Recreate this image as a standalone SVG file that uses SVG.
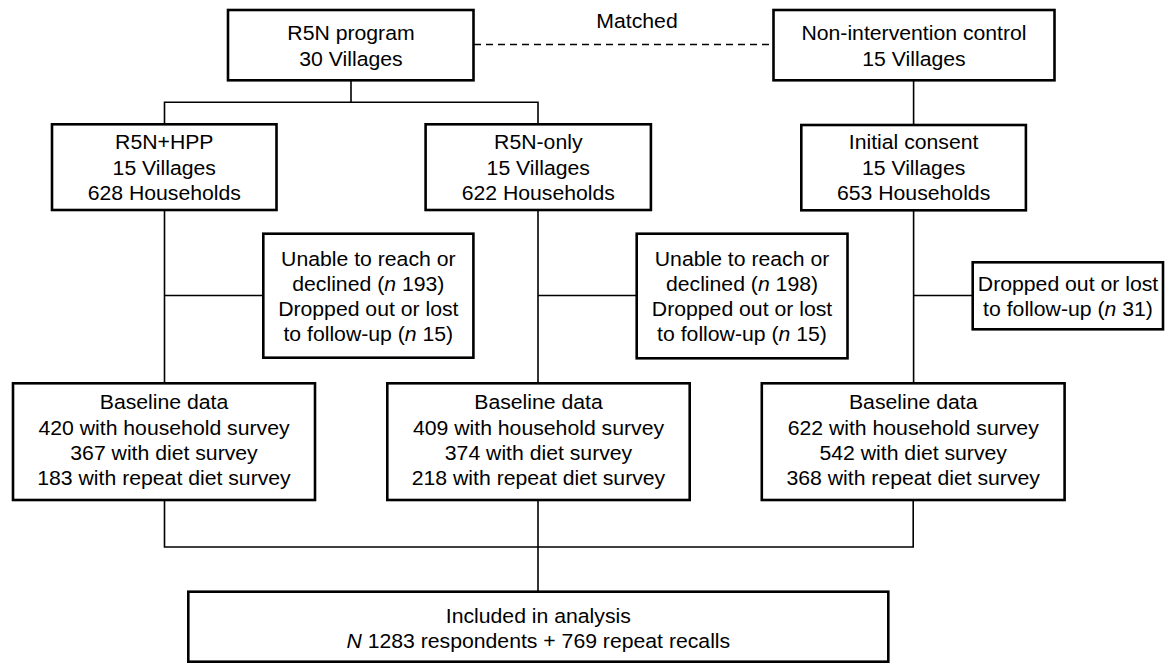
<svg xmlns="http://www.w3.org/2000/svg" width="1169" height="663" viewBox="0 0 1169 663">
<style>
  .box { fill: #ffffff; stroke: #000000; stroke-width: 2.6; }
  .ln { fill: none; stroke: #000000; stroke-width: 1.6; }
  .dash { fill: none; stroke: #000000; stroke-width: 1.5; stroke-dasharray: 7 5; }
  text { font-family: "Liberation Sans", Arial, Helvetica, sans-serif; font-size: 19.3px; fill: #000000; text-anchor: middle; }
  .it { font-style: italic; }
</style>
<rect x="0" y="0" width="1169" height="663" fill="#ffffff"/>
<g id="connectors">
  <path class="dash" d="M474 44.5 H773.5"/>
  <path class="ln" d="M351 80.3 V102.3 M164.5 124.3 V102.3 H538 V124.3"/>
  <path class="ln" d="M913.6 80.3 V125"/>
  <path class="ln" d="M164.5 210 V383.3 M164.5 295.5 H263.3"/>
  <path class="ln" d="M538 210 V383.3 M538 295.5 H636.7"/>
  <path class="ln" d="M913.6 210.3 V383.3 M913.6 295.5 H972.7"/>
  <path class="ln" d="M164.5 500 V547 H913.2 V500 M538 500 V591.7"/>
</g>
<text transform="matrix(1.1 0 0 1 637 0)" y="28">Matched</text>
<g id="r5n-program">
  <rect class="box" x="228" y="10" width="245.5" height="70.3"/>
  <text transform="matrix(1.1 0 0 1 351 0)" y="40">R5N program</text>
  <text transform="matrix(1.1 0 0 1 351 0)" y="65.7">30 Villages</text>
</g>
<g id="control">
  <rect class="box" x="773.5" y="10" width="281" height="70.3"/>
  <text transform="matrix(1.1 0 0 1 914 0)" y="40">Non-intervention control</text>
  <text transform="matrix(1.1 0 0 1 914 0)" y="65.7">15 Villages</text>
</g>
<g id="r5n-hpp">
  <rect class="box" x="52" y="124.3" width="224.5" height="85.7"/>
  <text transform="matrix(1.1 0 0 1 164.3 0)" y="149">R5N+HPP</text>
  <text transform="matrix(1.1 0 0 1 164.3 0)" y="174.7">15 Villages</text>
  <text transform="matrix(1.1 0 0 1 164.3 0)" y="200">628 Households</text>
</g>
<g id="r5n-only">
  <rect class="box" x="425.6" y="124.3" width="225.3" height="85.7"/>
  <text transform="matrix(1.1 0 0 1 538.3 0)" y="149">R5N-only</text>
  <text transform="matrix(1.1 0 0 1 538.3 0)" y="174.7">15 Villages</text>
  <text transform="matrix(1.1 0 0 1 538.3 0)" y="200">622 Households</text>
</g>
<g id="initial-consent">
  <rect class="box" x="801.3" y="125" width="224.6" height="85.3"/>
  <text transform="matrix(1.1 0 0 1 913.6 0)" y="149.3">Initial consent</text>
  <text transform="matrix(1.1 0 0 1 913.6 0)" y="174.7">15 Villages</text>
  <text transform="matrix(1.1 0 0 1 913.6 0)" y="200">653 Households</text>
</g>
<g id="excluded-hpp">
  <rect class="box" x="263.3" y="233.7" width="210.1" height="124"/>
  <text transform="matrix(1.1 0 0 1 368.3 0)" y="266">Unable to reach or</text>
  <text transform="matrix(1.1 0 0 1 368.3 0)" y="291">declined (<tspan class="it">n</tspan> 193)</text>
  <text transform="matrix(1.1 0 0 1 368.3 0)" y="316">Dropped out or lost</text>
  <text transform="matrix(1.1 0 0 1 368.3 0)" y="341.5">to follow-up (<tspan class="it">n</tspan> 15)</text>
</g>
<g id="excluded-only">
  <rect class="box" x="636.7" y="233.7" width="210.8" height="124.6"/>
  <text transform="matrix(1.1 0 0 1 742 0)" y="266">Unable to reach or</text>
  <text transform="matrix(1.1 0 0 1 742 0)" y="291">declined (<tspan class="it">n</tspan> 198)</text>
  <text transform="matrix(1.1 0 0 1 742 0)" y="316">Dropped out or lost</text>
  <text transform="matrix(1.1 0 0 1 742 0)" y="341.5">to follow-up (<tspan class="it">n</tspan> 15)</text>
</g>
<g id="excluded-control">
  <rect class="box" x="972.7" y="262.3" width="190.3" height="67"/>
  <text transform="matrix(1.1 0 0 1 1068 0)" y="291">Dropped out or lost</text>
  <text transform="matrix(1.1 0 0 1 1068 0)" y="316">to follow-up (<tspan class="it">n</tspan> 31)</text>
</g>
<g id="baseline-hpp">
  <rect class="box" x="13" y="383.3" width="302" height="116.7"/>
  <text transform="matrix(1.1 0 0 1 164 0)" y="409.3">Baseline data</text>
  <text transform="matrix(1.1 0 0 1 164 0)" y="435">420 with household survey</text>
  <text transform="matrix(1.1 0 0 1 164 0)" y="460">367 with diet survey</text>
  <text transform="matrix(1.1 0 0 1 164 0)" y="485.3">183 with repeat diet survey</text>
</g>
<g id="baseline-only">
  <rect class="box" x="387.3" y="383.3" width="302.4" height="116.7"/>
  <text transform="matrix(1.1 0 0 1 538.5 0)" y="409.3">Baseline data</text>
  <text transform="matrix(1.1 0 0 1 538.5 0)" y="435">409 with household survey</text>
  <text transform="matrix(1.1 0 0 1 538.5 0)" y="460">374 with diet survey</text>
  <text transform="matrix(1.1 0 0 1 538.5 0)" y="485.3">218 with repeat diet survey</text>
</g>
<g id="baseline-control">
  <rect class="box" x="761.8" y="383.3" width="302.8" height="116.7"/>
  <text transform="matrix(1.1 0 0 1 913.2 0)" y="409.3">Baseline data</text>
  <text transform="matrix(1.1 0 0 1 913.2 0)" y="435">622 with household survey</text>
  <text transform="matrix(1.1 0 0 1 913.2 0)" y="460">542 with diet survey</text>
  <text transform="matrix(1.1 0 0 1 913.2 0)" y="485.3">368 with repeat diet survey</text>
</g>
<g id="analysis">
  <rect class="box" x="188.3" y="591.7" width="700" height="70"/>
  <text transform="matrix(1.1 0 0 1 538.3 0)" y="623.3">Included in analysis</text>
  <text transform="matrix(1.1 0 0 1 538.3 0)" y="648.3"><tspan class="it">N</tspan> 1283 respondents + 769 repeat recalls</text>
</g>
</svg>
